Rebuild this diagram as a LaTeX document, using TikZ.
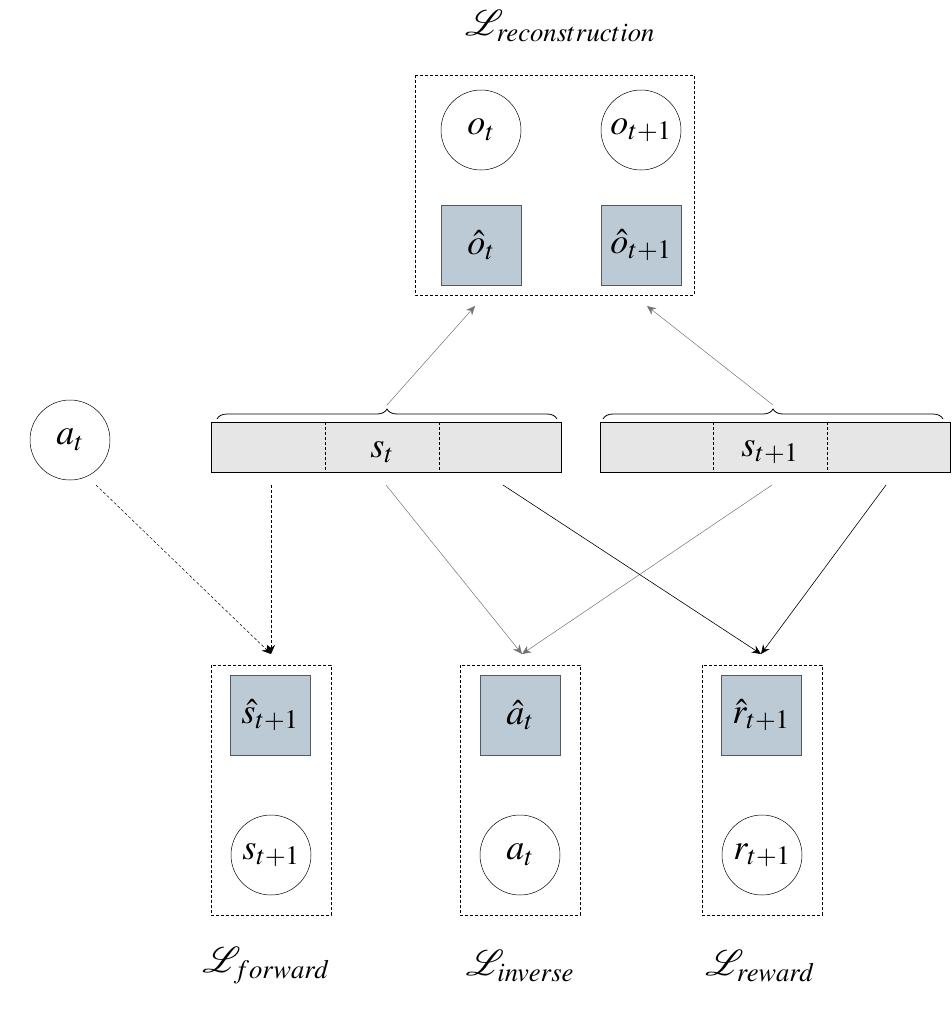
\documentclass[tikz,border=0pt]{standalone}
\usepackage{mathptmx}
\usetikzlibrary{arrows.meta,decorations.pathreplacing}
\definecolor{predfill}{HTML}{BCCAD6}
\definecolor{predline}{HTML}{555A60}
\definecolor{barfill}{HTML}{E6E6E6}
\tikzset{
  every node/.style={font=\fontsize{36}{42}\selectfont},
  obs/.style={circle, draw, line width=0.5pt, minimum size=80pt, inner sep=0pt},
  pred/.style={rectangle, draw=predline, fill=predfill, line width=0.6pt, minimum size=80pt, inner sep=0pt},
  groupbox/.style={draw, dash pattern=on 3pt off 2pt, line width=0.7pt},
  statebar/.style={rectangle, draw, fill=barfill, line width=0.8pt, minimum width=350pt, minimum height=50pt, inner sep=0pt},
  divider/.style={dash pattern=on 3pt off 2pt, line width=0.6pt},
  tip/.style={-{Stealth[length=9pt,width=8pt]}},
  dasharrow/.style={tip, dash pattern=on 3pt off 2pt, line width=0.5pt},
  grayarrow/.style={tip, draw=black!55, line width=0.5pt},
  blackarrow/.style={tip, draw=black, line width=0.6pt},
  bracestyle/.style={decorate, decoration={brace, amplitude=10pt}, line width=0.8pt},
  losslabel/.style={font=\fontsize{36}{42}\selectfont}
}
\begin{document}
\begin{tikzpicture}[x=1pt,y=-1pt]
\useasboundingbox (0,0) rectangle (952,1020);

% reconstruction group
\node[losslabel] (lrec) at (560,26) {$\mathcal{L}_{reconstruction}$};
\draw[groupbox] (415,75) rectangle (694,295);
\node[obs] (ot) at (481,130) {$o_t$};
\node[obs] (ot1) at (641,130) {$o_{t+1}$};
\node[pred] (hot) at (481,245) {$\hat{o}_t$};
\node[pred] (hot1) at (641,245) {$\hat{o}_{t+1}$};
\coordinate (recA) at (475,306);
\coordinate (recB) at (647,306);

% action
\node[obs] (at) at (70,440) {$a_t$};

% state bars
\node[statebar] (st) at (386,447) {};
\draw[divider] (325,422) -- (325,472);
\draw[divider] (439,422) -- (439,472);
\node at (382,452) {$s_t$};
\node[statebar] (st1) at (775,447) {};
\draw[divider] (713,422) -- (713,472);
\draw[divider] (827,422) -- (827,472);
\node at (770,452) {$s_{t+1}$};

% braces
\draw[bracestyle] (217,419) -- (557,419);
\draw[bracestyle] (603,419) -- (943,419);
\coordinate (braceA) at (387,405);
\coordinate (braceB) at (773,405);

% forward group
\draw[groupbox] (211,665) rectangle (331,915);
\node[pred] (hst1) at (270,715) {$\hat{s}_{t+1}$};
\node[obs] (sst1) at (271,855) {$s_{t+1}$};
\node[losslabel] (lfwd) at (266,966) {$\mathcal{L}_{forward}$};

% inverse group
\draw[groupbox] (460,665) rectangle (580,915);
\node[pred] (hat) at (520,715) {$\hat{a}_t$};
\node[obs] (aat) at (520,855) {$a_t$};
\node[losslabel] (linv) at (520,966) {$\mathcal{L}_{inverse}$};

% reward group
\draw[groupbox] (702,665) rectangle (822,915);
\node[pred] (hrt1) at (761,715) {$\hat{r}_{t+1}$};
\node[obs] (rt1) at (762,855) {$r_{t+1}$};
\node[losslabel] (lrew) at (760,966) {$\mathcal{L}_{reward}$};

% arrow anchors
\coordinate (fwdIn) at (271,654);
\coordinate (invIn) at (522,654);
\coordinate (rewIn) at (761,654);
\coordinate (atOut) at (96,485);
\coordinate (stA) at (271,485);
\coordinate (stB) at (386,485);
\coordinate (stC) at (503,485);
\coordinate (st1A) at (772,485);
\coordinate (st1B) at (886,485);

\draw[grayarrow] (braceA) -- (recA);
\draw[grayarrow] (braceB) -- (recB);
\draw[dasharrow] (atOut) -- (fwdIn);
\draw[dasharrow] (stA) -- (fwdIn);
\draw[grayarrow] (stB) -- (invIn);
\draw[grayarrow] (st1A) -- (invIn);
\draw[blackarrow] (stC) -- (rewIn);
\draw[blackarrow] (st1B) -- (rewIn);
\end{tikzpicture}
\end{document}
